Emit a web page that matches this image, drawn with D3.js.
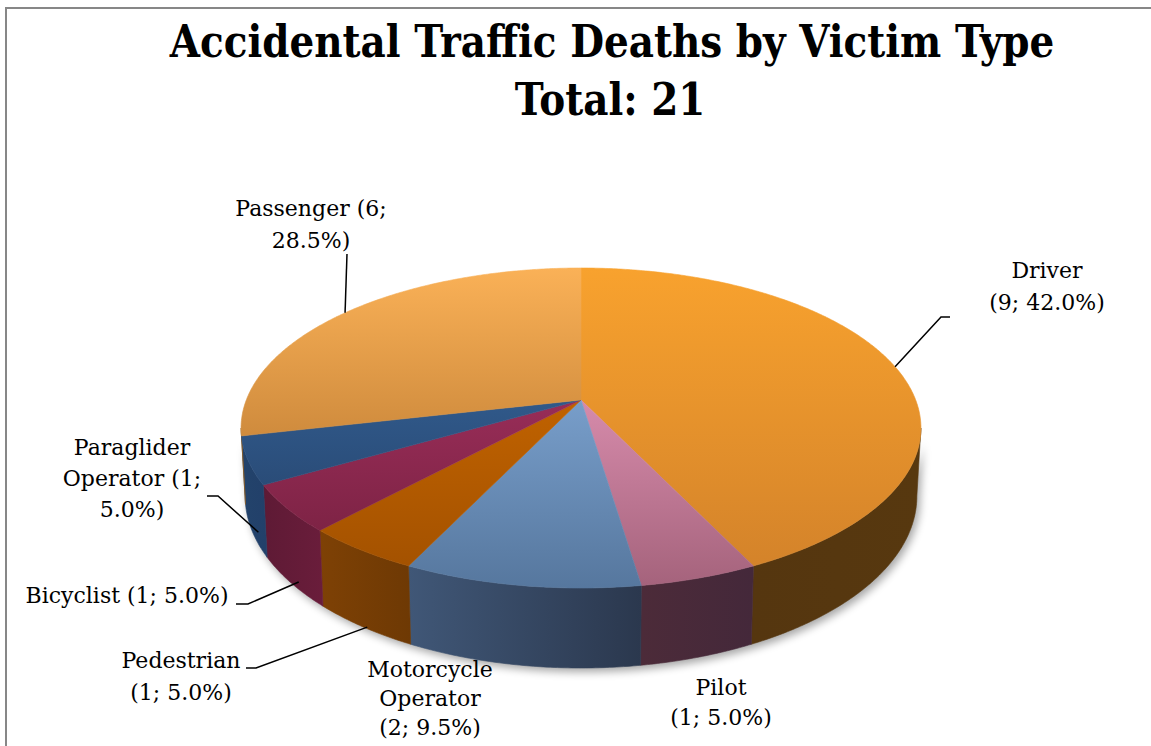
<!DOCTYPE html>
<html><head><meta charset="utf-8">
<script src="https://cdn.jsdelivr.net/npm/d3@7"></script>
<style>body{margin:0;background:#fff}svg{display:block}</style>
</head><body>
<svg id="chart" width="1151" height="746"></svg>
<script>
// ---------- data ----------
const categories = ["Driver", "Pilot", "Motorcycle Operator", "Pedestrian", "Bicyclist", "Paraglider Operator", "Passenger"];
const values = [9, 1, 2, 1, 1, 1, 6];
const percentLabels = ["42.0%", "5.0%", "9.5%", "5.0%", "5.0%", "5.0%", "28.5%"];
const titleLines = ["Accidental Traffic Deaths by Victim Type", "Total: 21"];

// ---------- styles ----------
const topColors = [["#F8A22E", "#D4832A"], ["#D68BAB", "#A5637C"], ["#789ECA", "#56779E"], ["#C06200", "#A45200"],
                   ["#982D58", "#7E2345"], ["#30598A", "#2A4C78"], ["#FAB157", "#CF8B3D"]];
const wallColors = [["#55360F", "#57380F"], ["#4C2B39", "#44283A"], ["#405777", "#2B384E"], ["#7E4105", "#6E3904"],
                    ["#5E1A35", "#6A1D3B"], ["#23436B", "#22406A"], ["#8A5A20", "#8A5A20"]];
// label layout: words per line, center x, first baseline, line height
const labelWrap = [[1, 2], [1, 2], [1, 1, 2], [1, 2], [3], [1, 2, 1], [2, 1]];
const labelPos = [[1047, 278, 32], [721, 695, 30], [430, 677, 29], [181, 668, 32], [127, 603, 30], [132, 455, 31], [311, 216, 32]];
// leader lines: fixed label-side points, then pie anchor (angle in deg, depth fraction)
const leaderStart = [[[950, 317], [941, 317]], null, null, [[246, 668], [256, 668]], [[236, 604], [248, 604]], [[207, 496], [218, 496]], [[347, 254]]];
const leaderAnchor = [[null, 0], null, null, [213.5, 0.98], [229, 0.9], [244, 0.82], [null, 0]];

const W = 1151, H = 746;
const cx = 581, cy = 400, RX = 334.7, RY = 155.1, K = 0.175, DEPTH = 66;
const svg = d3.select("#chart");
const defs = svg.append("defs");

svg.append("rect").attr("x", 6).attr("y", 8).attr("width", 1300).attr("height", 900)
  .attr("fill", "#fff").attr("stroke", "#878787").attr("stroke-width", 2);

// projection scales
const xs = d3.scaleLinear().domain([-1, 1]).range([cx - RX, cx + RX]);
const ys = d3.scaleLinear().domain([-1, 1]).range([cy - RY, cy + RY]);
const zs = d3.scaleLinear().domain([0, 1]).range([0, DEPTH]);
function proj(theta, z) {
  const X = Math.sin(theta), Y = -Math.cos(theta), w = 1 - K * Y;
  const xt = xs(X / w);
  return [cx + (xt - cx) * (1 - 0.012 * z), cy + (ys(Y) - cy + zs(z)) / w];
}
function arcPts(a0, a1, z) {
  const n = Math.max(2, Math.ceil(Math.abs(a1 - a0) / (Math.PI / 360)));
  return d3.range(n + 1).map(i => proj(a0 + (a1 - a0) * i / n, z));
}
const line = d3.line();
const pie = d3.pie().sort(null).startAngle(0).endAngle(2 * Math.PI);
const arcs = pie(values);

const vis0 = Math.acos(-K), vis1 = 2 * Math.PI - Math.acos(-K);

// shadow
const blur = defs.append("filter").attr("id", "blur").attr("x", "-10%").attr("y", "-20%").attr("width", "120%").attr("height", "150%");
blur.append("feGaussianBlur").attr("stdDeviation", 4);
const shadowPts = arcPts(vis0, vis1, 0).concat(arcPts(vis1, vis0, 1));
svg.append("path").attr("d", line(shadowPts) + "Z").attr("fill", "#000").attr("opacity", 0.35)
  .attr("transform", "translate(3,4)").attr("filter", "url(#blur)");

// gradients
arcs.forEach((a, i) => {
  const g = defs.append("linearGradient").attr("id", "top" + i).attr("x1", 0).attr("y1", 0).attr("x2", 0).attr("y2", 1);
  g.append("stop").attr("offset", 0).attr("stop-color", topColors[i][0]);
  g.append("stop").attr("offset", 1).attr("stop-color", topColors[i][1]);
  const h = defs.append("linearGradient").attr("id", "wall" + i).attr("x1", 0).attr("y1", 0).attr("x2", 1).attr("y2", 0);
  h.append("stop").attr("offset", 0).attr("stop-color", wallColors[i][0]);
  h.append("stop").attr("offset", 1).attr("stop-color", wallColors[i][1]);
});

// walls (front visible part)
const wallG = svg.append("g");
arcs.forEach((a, i) => {
  const s = Math.max(a.startAngle, vis0), e = Math.min(a.endAngle, vis1);
  if (e <= s) return;
  const pts = arcPts(s, e, 0).concat(arcPts(e, s, 1));
  wallG.append("path").attr("d", line(pts) + "Z").attr("fill", `url(#wall${i})`)
    .attr("stroke", `url(#wall${i})`).attr("stroke-width", 0.6);
});

// top faces
const topG = svg.append("g");
arcs.forEach((a, i) => {
  const pts = [[cx, cy]].concat(arcPts(a.startAngle, a.endAngle, 0));
  topG.append("path").attr("d", line(pts) + "Z").attr("fill", `url(#top${i})`)
    .attr("stroke", `url(#top${i})`).attr("stroke-width", 0.6).attr("stroke-linejoin", "round");
});

// leader lines
arcs.forEach((a, i) => {
  if (!leaderStart[i]) return;
  const [deg, z] = leaderAnchor[i];
  const th = deg === null ? (a.startAngle + a.endAngle) / 2 : deg * Math.PI / 180;
  const pts = leaderStart[i].concat([proj(th, z)]);
  svg.append("path").attr("d", line(pts)).attr("fill", "none").attr("stroke", "#000").attr("stroke-width", 1.5);
});

// labels
const labelG = svg.append("g").attr("font-family", "'DejaVu Serif', serif").attr("font-size", 22).attr("fill", "#000")
  .attr("text-anchor", "middle");
arcs.forEach((a, i) => {
  const words = `${categories[i]} (${values[i]}; ${percentLabels[i]})`.split(" ");
  let k = 0;
  const lines = labelWrap[i].map(n => { const l = words.slice(k, k + n).join(" "); k += n; return l; });
  const [lx, ly, lh] = labelPos[i];
  lines.forEach((l, j) => labelG.append("text").attr("x", lx).attr("y", ly + j * lh).text(l));
});

// title (horizontally condensed to match the original's width)
const tg = svg.append("g").attr("font-family", "'DejaVu Serif', serif").attr("font-weight", "bold")
  .attr("font-size", 44).attr("text-anchor", "middle").attr("fill", "#000");
const t1 = tg.append("text").attr("x", 0).attr("y", 0).text(titleLines[0]);
const t2 = tg.append("text").attr("x", 0).attr("y", 0).text(titleLines[1]);
const f = Math.min(1, 885 / t1.node().getComputedTextLength());
t1.attr("transform", `translate(612,57) scale(${f},1)`);
t2.attr("transform", `translate(610,115) scale(${f},1)`);
</script>
</body></html>
